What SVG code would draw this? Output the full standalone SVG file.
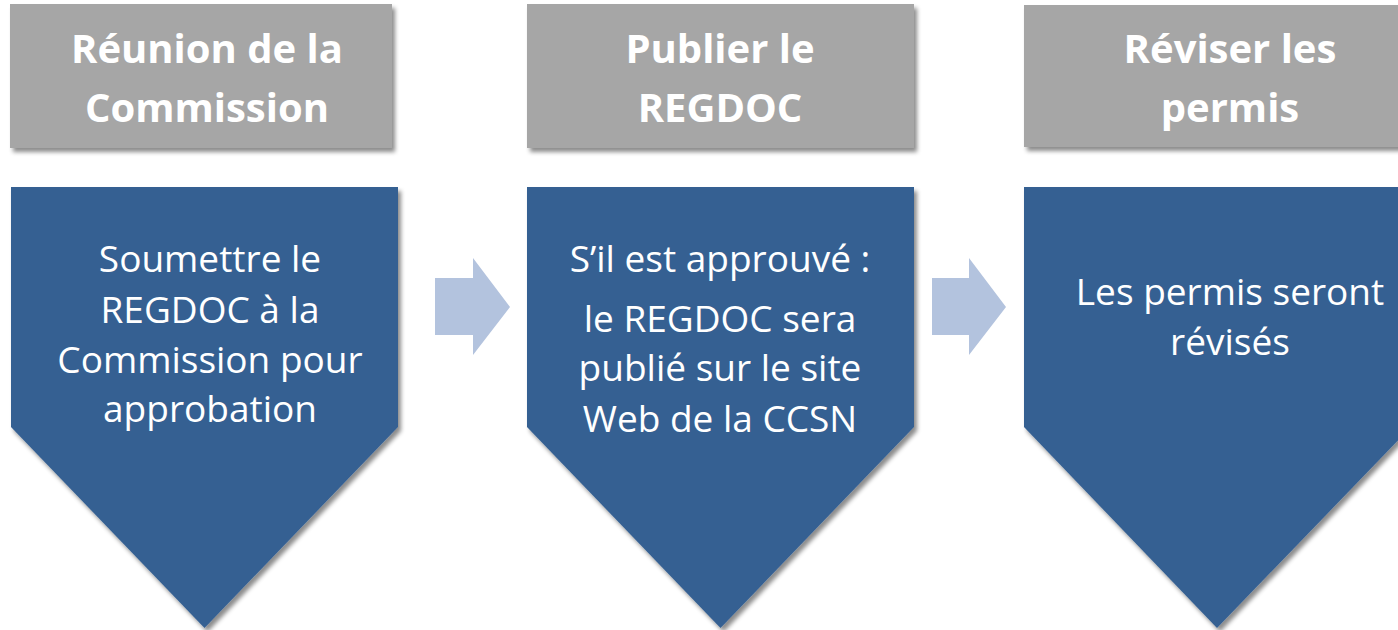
<svg xmlns="http://www.w3.org/2000/svg" width="1398" height="630" viewBox="0 0 1398 630">
<defs>
<filter id="sh" x="-10%" y="-10%" width="130%" height="130%">
<feDropShadow dx="3" dy="4" stdDeviation="2" flood-color="#000" flood-opacity="0.45"/>
</filter>
<style>
.hdr{fill:#A6A6A6;filter:url(#sh)}
.body{fill:#366092;filter:url(#sh)}
.arr{fill:#B3C3DE}
.ht{font-family:"Open Sans","Liberation Sans",sans-serif;font-weight:bold;font-size:40px;fill:#fff;text-anchor:middle}
.bt{font-family:"Open Sans","Liberation Sans",sans-serif;font-size:37px;fill:#fff;text-anchor:middle}
</style>
</defs>
<rect width="1398" height="630" fill="#fff"/>
<g id="node1">
<rect class="hdr" x="10" y="4" width="382" height="144"/>
<text class="ht" x="207" y="63">Réunion de la</text>
<text class="ht" x="207" y="122">Commission</text>
<polygon class="body" points="11,187 398,187 398,427 204.5,628 11,427"/>
<text class="bt" x="210" y="272">Soumettre le</text>
<text class="bt" x="210" y="323">REGDOC à la</text>
<text class="bt" x="210" y="373">Commission pour</text>
<text class="bt" x="210" y="422">approbation</text>
</g>
<g id="node2">
<rect class="hdr" x="527" y="4" width="387" height="144"/>
<text class="ht" x="720" y="63">Publier le</text>
<text class="ht" x="720" y="122">REGDOC</text>
<polygon class="body" points="527,187 914,187 914,427 720.5,628 527,427"/>
<text class="bt" x="720" y="272">S’il est approuvé :</text>
<text class="bt" x="720" y="332">le REGDOC sera</text>
<text class="bt" x="720" y="381">publié sur le site</text>
<text class="bt" x="720" y="432">Web de la CCSN</text>
</g>
<g id="node3">
<rect class="hdr" x="1024" y="5" width="390" height="142"/>
<text class="ht" x="1230" y="63">Réviser les</text>
<text class="ht" x="1230" y="122">permis</text>
<polygon class="body" points="1024,187 1411,187 1411,427 1217,628 1024,427"/>
<text class="bt" x="1230" y="305">Les permis seront</text>
<text class="bt" x="1230" y="355">révisés</text>
</g>
<g id="connectors">
<polygon class="arr" points="435,278 473,278 473,258 510,307 473,355 473,335 435,335"/>
<polygon class="arr" points="932,278 969,278 969,258 1006,307 969,355 969,335 932,335"/>
</g>
</svg>
